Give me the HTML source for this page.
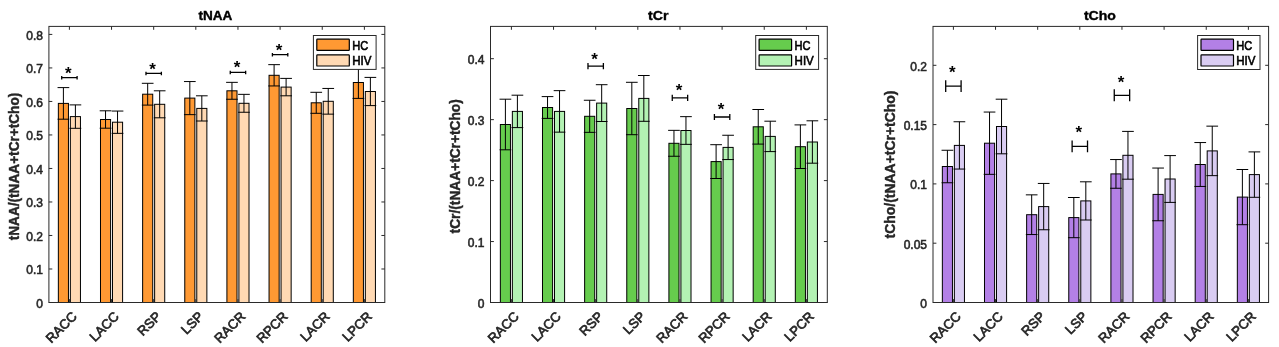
<!DOCTYPE html>
<html><head><meta charset="utf-8"><title>Metabolite ratios</title>
<style>html,body{margin:0;padding:0;background:#fff;}body{width:1279px;height:347px;overflow:hidden;font-family:"Liberation Sans",sans-serif;}svg{display:block;will-change:transform;}text{font-family:"Liberation Sans",sans-serif;font-weight:bold;}text.hv{stroke:#000;stroke-width:0.4px;}text.hv2{stroke:#262626;stroke-width:0.4px;}text.lg{font-weight:normal;stroke:#000;stroke-width:0.6px;}text.tk{font-weight:normal;stroke:#262626;stroke-width:0.55px;}</style>
</head><body>
<svg width="1279" height="347" viewBox="0 0 1279 347">
<rect x="0" y="0" width="1279" height="347" fill="#ffffff"/>
<g>
<rect x="58.35" y="103.40" width="10.10" height="199.10" fill="#FF9933" stroke="#000" stroke-width="1"/>
<rect x="70.35" y="116.60" width="10.10" height="185.90" fill="#FFD9B3" stroke="#000" stroke-width="1"/>
<rect x="100.49" y="119.50" width="10.10" height="183.00" fill="#FF9933" stroke="#000" stroke-width="1"/>
<rect x="112.49" y="122.20" width="10.10" height="180.30" fill="#FFD9B3" stroke="#000" stroke-width="1"/>
<rect x="142.63" y="94.20" width="10.10" height="208.30" fill="#FF9933" stroke="#000" stroke-width="1"/>
<rect x="154.63" y="104.30" width="10.10" height="198.20" fill="#FFD9B3" stroke="#000" stroke-width="1"/>
<rect x="184.77" y="98.10" width="10.10" height="204.40" fill="#FF9933" stroke="#000" stroke-width="1"/>
<rect x="196.77" y="108.40" width="10.10" height="194.10" fill="#FFD9B3" stroke="#000" stroke-width="1"/>
<rect x="226.91" y="90.80" width="10.10" height="211.70" fill="#FF9933" stroke="#000" stroke-width="1"/>
<rect x="238.91" y="103.30" width="10.10" height="199.20" fill="#FFD9B3" stroke="#000" stroke-width="1"/>
<rect x="269.05" y="75.30" width="10.10" height="227.20" fill="#FF9933" stroke="#000" stroke-width="1"/>
<rect x="281.05" y="87.10" width="10.10" height="215.40" fill="#FFD9B3" stroke="#000" stroke-width="1"/>
<rect x="311.19" y="102.80" width="10.10" height="199.70" fill="#FF9933" stroke="#000" stroke-width="1"/>
<rect x="323.19" y="101.30" width="10.10" height="201.20" fill="#FFD9B3" stroke="#000" stroke-width="1"/>
<rect x="353.33" y="82.50" width="10.10" height="220.00" fill="#FF9933" stroke="#000" stroke-width="1"/>
<rect x="365.33" y="91.50" width="10.10" height="211.00" fill="#FFD9B3" stroke="#000" stroke-width="1"/>
<path d="M63.40 87.60V119.20M57.55 87.60H69.25M57.55 119.20H69.25" stroke="#000" stroke-width="1" fill="none"/>
<path d="M75.40 104.90V128.30M69.55 104.90H81.25M69.55 128.30H81.25" stroke="#000" stroke-width="1" fill="none"/>
<path d="M105.54 110.80V128.20M99.69 110.80H111.39M99.69 128.20H111.39" stroke="#000" stroke-width="1" fill="none"/>
<path d="M117.54 111.05V133.35M111.69 111.05H123.39M111.69 133.35H123.39" stroke="#000" stroke-width="1" fill="none"/>
<path d="M147.68 83.30V105.10M141.83 83.30H153.53M141.83 105.10H153.53" stroke="#000" stroke-width="1" fill="none"/>
<path d="M159.68 90.80V117.80M153.83 90.80H165.53M153.83 117.80H165.53" stroke="#000" stroke-width="1" fill="none"/>
<path d="M189.82 81.55V114.65M183.97 81.55H195.67M183.97 114.65H195.67" stroke="#000" stroke-width="1" fill="none"/>
<path d="M201.82 95.80V121.00M195.97 95.80H207.67M195.97 121.00H207.67" stroke="#000" stroke-width="1" fill="none"/>
<path d="M231.96 82.35V99.25M226.11 82.35H237.81M226.11 99.25H237.81" stroke="#000" stroke-width="1" fill="none"/>
<path d="M243.96 94.35V112.25M238.11 94.35H249.81M238.11 112.25H249.81" stroke="#000" stroke-width="1" fill="none"/>
<path d="M274.10 64.65V85.95M268.25 64.65H279.95M268.25 85.95H279.95" stroke="#000" stroke-width="1" fill="none"/>
<path d="M286.10 78.40V95.80M280.25 78.40H291.95M280.25 95.80H291.95" stroke="#000" stroke-width="1" fill="none"/>
<path d="M316.24 92.30V113.30M310.39 92.30H322.09M310.39 113.30H322.09" stroke="#000" stroke-width="1" fill="none"/>
<path d="M328.24 88.45V114.15M322.39 88.45H334.09M322.39 114.15H334.09" stroke="#000" stroke-width="1" fill="none"/>
<path d="M358.38 66.60V98.40M352.53 66.60H364.23M352.53 98.40H364.23" stroke="#000" stroke-width="1" fill="none"/>
<path d="M370.38 77.40V105.60M364.53 77.40H376.23M364.53 105.60H376.23" stroke="#000" stroke-width="1" fill="none"/>
<rect x="48.90" y="26.40" width="335.90" height="276.10" fill="none" stroke="#2a2a2a" stroke-width="1"/>
<path d="M69.40 26.40v3.4M69.40 302.50v-3.4M111.54 26.40v3.4M111.54 302.50v-3.4M153.68 26.40v3.4M153.68 302.50v-3.4M195.82 26.40v3.4M195.82 302.50v-3.4M237.96 26.40v3.4M237.96 302.50v-3.4M280.10 26.40v3.4M280.10 302.50v-3.4M322.24 26.40v3.4M322.24 302.50v-3.4M364.38 26.40v3.4M364.38 302.50v-3.4M48.90 302.50h3.4M384.80 302.50h-3.4M48.90 268.99h3.4M384.80 268.99h-3.4M48.90 235.48h3.4M384.80 235.48h-3.4M48.90 201.97h3.4M384.80 201.97h-3.4M48.90 168.46h3.4M384.80 168.46h-3.4M48.90 134.95h3.4M384.80 134.95h-3.4M48.90 101.44h3.4M384.80 101.44h-3.4M48.90 67.93h3.4M384.80 67.93h-3.4M48.90 34.42h3.4M384.80 34.42h-3.4" stroke="#2a2a2a" stroke-width="1" fill="none"/>
<text class="tk" x="42.90" y="307.80" font-size="12" text-anchor="end" fill="#262626">0</text>
<text class="tk" x="42.90" y="274.29" font-size="12" text-anchor="end" fill="#262626">0.1</text>
<text class="tk" x="42.90" y="240.78" font-size="12" text-anchor="end" fill="#262626">0.2</text>
<text class="tk" x="42.90" y="207.27" font-size="12" text-anchor="end" fill="#262626">0.3</text>
<text class="tk" x="42.90" y="173.76" font-size="12" text-anchor="end" fill="#262626">0.4</text>
<text class="tk" x="42.90" y="140.25" font-size="12" text-anchor="end" fill="#262626">0.5</text>
<text class="tk" x="42.90" y="106.74" font-size="12" text-anchor="end" fill="#262626">0.6</text>
<text class="tk" x="42.90" y="73.23" font-size="12" text-anchor="end" fill="#262626">0.7</text>
<text class="tk" x="42.90" y="39.72" font-size="12" text-anchor="end" fill="#262626">0.8</text>
<text class="tk" transform="translate(77.70 317.30) rotate(-45)" font-size="13.2" text-anchor="end" fill="#262626" style="stroke-width:0.7px">RACC</text>
<text class="tk" transform="translate(119.84 317.30) rotate(-45)" font-size="13.2" text-anchor="end" fill="#262626" style="stroke-width:0.7px">LACC</text>
<text class="tk" transform="translate(161.98 317.30) rotate(-45)" font-size="13.2" text-anchor="end" fill="#262626" style="stroke-width:0.7px">RSP</text>
<text class="tk" transform="translate(204.12 317.30) rotate(-45)" font-size="13.2" text-anchor="end" fill="#262626" style="stroke-width:0.7px">LSP</text>
<text class="tk" transform="translate(246.26 317.30) rotate(-45)" font-size="13.2" text-anchor="end" fill="#262626" style="stroke-width:0.7px">RACR</text>
<text class="tk" transform="translate(288.40 317.30) rotate(-45)" font-size="13.2" text-anchor="end" fill="#262626" style="stroke-width:0.7px">RPCR</text>
<text class="tk" transform="translate(330.54 317.30) rotate(-45)" font-size="13.2" text-anchor="end" fill="#262626" style="stroke-width:0.7px">LACR</text>
<text class="tk" transform="translate(372.68 317.30) rotate(-45)" font-size="13.2" text-anchor="end" fill="#262626" style="stroke-width:0.7px">LPCR</text>
<text class="hv" x="215.40" y="19.65" font-size="13.5" text-anchor="middle" textLength="33.90" lengthAdjust="spacingAndGlyphs" fill="#000">tNAA</text>
<text transform="translate(18.70 240.30) rotate(-90)" class="hv2" font-size="14" textLength="147.60" lengthAdjust="spacingAndGlyphs" fill="#262626">tNAA/(tNAA+tCr+tCho)</text>
<path d="M61.70 77.70H77.10M61.70 75.95V79.45M77.10 75.95V79.45" stroke="#000" stroke-width="1.3" fill="none"/>
<text x="68.40" y="79.10" font-size="17" text-anchor="middle" fill="#000">*</text>
<path d="M145.98 73.40H161.38M145.98 71.65V75.15M161.38 71.65V75.15" stroke="#000" stroke-width="1.3" fill="none"/>
<text x="152.68" y="74.70" font-size="17" text-anchor="middle" fill="#000">*</text>
<path d="M230.26 72.40H245.66M230.26 70.65V74.15M245.66 70.65V74.15" stroke="#000" stroke-width="1.3" fill="none"/>
<text x="236.96" y="73.00" font-size="17" text-anchor="middle" fill="#000">*</text>
<path d="M272.40 54.70H287.80M272.40 52.95V56.45M287.80 52.95V56.45" stroke="#000" stroke-width="1.3" fill="none"/>
<text x="279.10" y="55.60" font-size="17" text-anchor="middle" fill="#000">*</text>
<rect x="313.40" y="35.50" width="62.70" height="33.90" fill="#fff" stroke="#2a2a2a" stroke-width="1"/>
<rect x="316.80" y="39.20" width="32.5" height="11.1" rx="0.6" fill="#FF9933" stroke="#000" stroke-width="1.2"/>
<rect x="316.80" y="54.80" width="32.5" height="11.2" rx="0.6" fill="#FFD9B3" stroke="#000" stroke-width="1.2"/>
<text class="lg" x="352.20" y="49.7" font-size="12.2" fill="#000" textLength="16.0" lengthAdjust="spacingAndGlyphs">HC</text>
<text class="lg" x="352.20" y="65.1" font-size="12.2" fill="#000" textLength="19.2" lengthAdjust="spacingAndGlyphs">HIV</text>
</g>
<g>
<rect x="500.35" y="124.50" width="10.10" height="178.00" fill="#66CC4D" stroke="#000" stroke-width="1"/>
<rect x="512.35" y="111.40" width="10.10" height="191.10" fill="#B3F2B3" stroke="#000" stroke-width="1"/>
<rect x="542.49" y="107.50" width="10.10" height="195.00" fill="#66CC4D" stroke="#000" stroke-width="1"/>
<rect x="554.49" y="111.40" width="10.10" height="191.10" fill="#B3F2B3" stroke="#000" stroke-width="1"/>
<rect x="584.63" y="116.30" width="10.10" height="186.20" fill="#66CC4D" stroke="#000" stroke-width="1"/>
<rect x="596.63" y="103.10" width="10.10" height="199.40" fill="#B3F2B3" stroke="#000" stroke-width="1"/>
<rect x="626.77" y="108.50" width="10.10" height="194.00" fill="#66CC4D" stroke="#000" stroke-width="1"/>
<rect x="638.77" y="98.40" width="10.10" height="204.10" fill="#B3F2B3" stroke="#000" stroke-width="1"/>
<rect x="668.91" y="143.30" width="10.10" height="159.20" fill="#66CC4D" stroke="#000" stroke-width="1"/>
<rect x="680.91" y="130.50" width="10.10" height="172.00" fill="#B3F2B3" stroke="#000" stroke-width="1"/>
<rect x="711.05" y="161.60" width="10.10" height="140.90" fill="#66CC4D" stroke="#000" stroke-width="1"/>
<rect x="723.05" y="147.40" width="10.10" height="155.10" fill="#B3F2B3" stroke="#000" stroke-width="1"/>
<rect x="753.19" y="126.80" width="10.10" height="175.70" fill="#66CC4D" stroke="#000" stroke-width="1"/>
<rect x="765.19" y="136.40" width="10.10" height="166.10" fill="#B3F2B3" stroke="#000" stroke-width="1"/>
<rect x="795.33" y="146.70" width="10.10" height="155.80" fill="#66CC4D" stroke="#000" stroke-width="1"/>
<rect x="807.33" y="142.00" width="10.10" height="160.50" fill="#B3F2B3" stroke="#000" stroke-width="1"/>
<path d="M505.40 99.20V149.80M499.55 99.20H511.25M499.55 149.80H511.25" stroke="#000" stroke-width="1" fill="none"/>
<path d="M517.40 95.20V127.60M511.55 95.20H523.25M511.55 127.60H523.25" stroke="#000" stroke-width="1" fill="none"/>
<path d="M547.54 96.60V118.40M541.69 96.60H553.39M541.69 118.40H553.39" stroke="#000" stroke-width="1" fill="none"/>
<path d="M559.54 90.65V132.15M553.69 90.65H565.39M553.69 132.15H565.39" stroke="#000" stroke-width="1" fill="none"/>
<path d="M589.68 100.25V132.35M583.83 100.25H595.53M583.83 132.35H595.53" stroke="#000" stroke-width="1" fill="none"/>
<path d="M601.68 84.70V121.50M595.83 84.70H607.53M595.83 121.50H607.53" stroke="#000" stroke-width="1" fill="none"/>
<path d="M631.82 82.30V134.70M625.97 82.30H637.67M625.97 134.70H637.67" stroke="#000" stroke-width="1" fill="none"/>
<path d="M643.82 75.50V121.30M637.97 75.50H649.67M637.97 121.30H649.67" stroke="#000" stroke-width="1" fill="none"/>
<path d="M673.96 130.35V156.25M668.11 130.35H679.81M668.11 156.25H679.81" stroke="#000" stroke-width="1" fill="none"/>
<path d="M685.96 116.65V144.35M680.11 116.65H691.81M680.11 144.35H691.81" stroke="#000" stroke-width="1" fill="none"/>
<path d="M716.10 144.70V178.50M710.25 144.70H721.95M710.25 178.50H721.95" stroke="#000" stroke-width="1" fill="none"/>
<path d="M728.10 135.25V159.55M722.25 135.25H733.95M722.25 159.55H733.95" stroke="#000" stroke-width="1" fill="none"/>
<path d="M758.24 109.50V144.10M752.39 109.50H764.09M752.39 144.10H764.09" stroke="#000" stroke-width="1" fill="none"/>
<path d="M770.24 121.20V151.60M764.39 121.20H776.09M764.39 151.60H776.09" stroke="#000" stroke-width="1" fill="none"/>
<path d="M800.38 124.90V168.50M794.53 124.90H806.23M794.53 168.50H806.23" stroke="#000" stroke-width="1" fill="none"/>
<path d="M812.38 120.80V163.20M806.53 120.80H818.23M806.53 163.20H818.23" stroke="#000" stroke-width="1" fill="none"/>
<rect x="490.50" y="26.40" width="336.80" height="276.10" fill="none" stroke="#2a2a2a" stroke-width="1"/>
<path d="M511.40 26.40v3.4M511.40 302.50v-3.4M553.54 26.40v3.4M553.54 302.50v-3.4M595.68 26.40v3.4M595.68 302.50v-3.4M637.82 26.40v3.4M637.82 302.50v-3.4M679.96 26.40v3.4M679.96 302.50v-3.4M722.10 26.40v3.4M722.10 302.50v-3.4M764.24 26.40v3.4M764.24 302.50v-3.4M806.38 26.40v3.4M806.38 302.50v-3.4M490.50 302.50h3.4M827.30 302.50h-3.4M490.50 241.55h3.4M827.30 241.55h-3.4M490.50 180.60h3.4M827.30 180.60h-3.4M490.50 119.65h3.4M827.30 119.65h-3.4M490.50 58.70h3.4M827.30 58.70h-3.4" stroke="#2a2a2a" stroke-width="1" fill="none"/>
<text class="tk" x="484.50" y="307.80" font-size="12" text-anchor="end" fill="#262626">0</text>
<text class="tk" x="484.50" y="246.85" font-size="12" text-anchor="end" fill="#262626">0.1</text>
<text class="tk" x="484.50" y="185.90" font-size="12" text-anchor="end" fill="#262626">0.2</text>
<text class="tk" x="484.50" y="124.95" font-size="12" text-anchor="end" fill="#262626">0.3</text>
<text class="tk" x="484.50" y="64.00" font-size="12" text-anchor="end" fill="#262626">0.4</text>
<text class="tk" transform="translate(519.70 317.30) rotate(-45)" font-size="13.2" text-anchor="end" fill="#262626" style="stroke-width:0.7px">RACC</text>
<text class="tk" transform="translate(561.84 317.30) rotate(-45)" font-size="13.2" text-anchor="end" fill="#262626" style="stroke-width:0.7px">LACC</text>
<text class="tk" transform="translate(603.98 317.30) rotate(-45)" font-size="13.2" text-anchor="end" fill="#262626" style="stroke-width:0.7px">RSP</text>
<text class="tk" transform="translate(646.12 317.30) rotate(-45)" font-size="13.2" text-anchor="end" fill="#262626" style="stroke-width:0.7px">LSP</text>
<text class="tk" transform="translate(688.26 317.30) rotate(-45)" font-size="13.2" text-anchor="end" fill="#262626" style="stroke-width:0.7px">RACR</text>
<text class="tk" transform="translate(730.40 317.30) rotate(-45)" font-size="13.2" text-anchor="end" fill="#262626" style="stroke-width:0.7px">RPCR</text>
<text class="tk" transform="translate(772.54 317.30) rotate(-45)" font-size="13.2" text-anchor="end" fill="#262626" style="stroke-width:0.7px">LACR</text>
<text class="tk" transform="translate(814.68 317.30) rotate(-45)" font-size="13.2" text-anchor="end" fill="#262626" style="stroke-width:0.7px">LPCR</text>
<text class="hv" x="658.20" y="19.65" font-size="13.5" text-anchor="middle" textLength="20.40" lengthAdjust="spacingAndGlyphs" fill="#000">tCr</text>
<text transform="translate(459.80 233.40) rotate(-90)" class="hv2" font-size="14" textLength="134.20" lengthAdjust="spacingAndGlyphs" fill="#262626">tCr/(tNAA+tCr+tCho)</text>
<path d="M587.98 66.10H603.38M587.98 63.00V69.20M603.38 63.00V69.20" stroke="#000" stroke-width="1.3" fill="none"/>
<text x="594.68" y="65.00" font-size="17" text-anchor="middle" fill="#000">*</text>
<path d="M672.26 97.90H687.66M672.26 94.80V101.00M687.66 94.80V101.00" stroke="#000" stroke-width="1.3" fill="none"/>
<text x="678.96" y="96.30" font-size="17" text-anchor="middle" fill="#000">*</text>
<path d="M714.40 117.00H729.80M714.40 113.90V120.10M729.80 113.90V120.10" stroke="#000" stroke-width="1.3" fill="none"/>
<text x="721.10" y="114.70" font-size="17" text-anchor="middle" fill="#000">*</text>
<rect x="755.70" y="35.50" width="62.90" height="33.90" fill="#fff" stroke="#2a2a2a" stroke-width="1"/>
<rect x="759.10" y="39.20" width="32.5" height="11.1" rx="0.6" fill="#66CC4D" stroke="#000" stroke-width="1.2"/>
<rect x="759.10" y="54.80" width="32.5" height="11.2" rx="0.6" fill="#B3F2B3" stroke="#000" stroke-width="1.2"/>
<text class="lg" x="794.60" y="49.7" font-size="12.2" fill="#000" textLength="16.0" lengthAdjust="spacingAndGlyphs">HC</text>
<text class="lg" x="794.60" y="65.1" font-size="12.2" fill="#000" textLength="19.2" lengthAdjust="spacingAndGlyphs">HIV</text>
</g>
<g>
<rect x="942.35" y="166.50" width="10.10" height="136.00" fill="#B380E6" stroke="#000" stroke-width="1"/>
<rect x="954.35" y="145.40" width="10.10" height="157.10" fill="#D9CCF2" stroke="#000" stroke-width="1"/>
<rect x="984.49" y="143.20" width="10.10" height="159.30" fill="#B380E6" stroke="#000" stroke-width="1"/>
<rect x="996.49" y="126.50" width="10.10" height="176.00" fill="#D9CCF2" stroke="#000" stroke-width="1"/>
<rect x="1026.63" y="214.70" width="10.10" height="87.80" fill="#B380E6" stroke="#000" stroke-width="1"/>
<rect x="1038.63" y="206.60" width="10.10" height="95.90" fill="#D9CCF2" stroke="#000" stroke-width="1"/>
<rect x="1068.77" y="217.60" width="10.10" height="84.90" fill="#B380E6" stroke="#000" stroke-width="1"/>
<rect x="1080.77" y="200.90" width="10.10" height="101.60" fill="#D9CCF2" stroke="#000" stroke-width="1"/>
<rect x="1110.91" y="173.90" width="10.10" height="128.60" fill="#B380E6" stroke="#000" stroke-width="1"/>
<rect x="1122.91" y="155.30" width="10.10" height="147.20" fill="#D9CCF2" stroke="#000" stroke-width="1"/>
<rect x="1153.05" y="194.40" width="10.10" height="108.10" fill="#B380E6" stroke="#000" stroke-width="1"/>
<rect x="1165.05" y="179.00" width="10.10" height="123.50" fill="#D9CCF2" stroke="#000" stroke-width="1"/>
<rect x="1195.19" y="164.50" width="10.10" height="138.00" fill="#B380E6" stroke="#000" stroke-width="1"/>
<rect x="1207.19" y="150.90" width="10.10" height="151.60" fill="#D9CCF2" stroke="#000" stroke-width="1"/>
<rect x="1237.33" y="197.10" width="10.10" height="105.40" fill="#B380E6" stroke="#000" stroke-width="1"/>
<rect x="1249.33" y="174.60" width="10.10" height="127.90" fill="#D9CCF2" stroke="#000" stroke-width="1"/>
<path d="M947.40 150.25V182.75M941.55 150.25H953.25M941.55 182.75H953.25" stroke="#000" stroke-width="1" fill="none"/>
<path d="M959.40 121.75V169.05M953.55 121.75H965.25M953.55 169.05H965.25" stroke="#000" stroke-width="1" fill="none"/>
<path d="M989.54 112.05V174.35M983.69 112.05H995.39M983.69 174.35H995.39" stroke="#000" stroke-width="1" fill="none"/>
<path d="M1001.54 99.20V153.80M995.69 99.20H1007.39M995.69 153.80H1007.39" stroke="#000" stroke-width="1" fill="none"/>
<path d="M1031.68 194.85V234.55M1025.83 194.85H1037.53M1025.83 234.55H1037.53" stroke="#000" stroke-width="1" fill="none"/>
<path d="M1043.68 183.45V229.75M1037.83 183.45H1049.53M1037.83 229.75H1049.53" stroke="#000" stroke-width="1" fill="none"/>
<path d="M1073.82 197.50V237.70M1067.97 197.50H1079.67M1067.97 237.70H1079.67" stroke="#000" stroke-width="1" fill="none"/>
<path d="M1085.82 181.80V220.00M1079.97 181.80H1091.67M1079.97 220.00H1091.67" stroke="#000" stroke-width="1" fill="none"/>
<path d="M1115.96 159.55V188.25M1110.11 159.55H1121.81M1110.11 188.25H1121.81" stroke="#000" stroke-width="1" fill="none"/>
<path d="M1127.96 131.40V179.20M1122.11 131.40H1133.81M1122.11 179.20H1133.81" stroke="#000" stroke-width="1" fill="none"/>
<path d="M1158.10 168.05V220.75M1152.25 168.05H1163.95M1152.25 220.75H1163.95" stroke="#000" stroke-width="1" fill="none"/>
<path d="M1170.10 155.60V202.40M1164.25 155.60H1175.95M1164.25 202.40H1175.95" stroke="#000" stroke-width="1" fill="none"/>
<path d="M1200.24 142.55V186.45M1194.39 142.55H1206.09M1194.39 186.45H1206.09" stroke="#000" stroke-width="1" fill="none"/>
<path d="M1212.24 126.15V175.65M1206.39 126.15H1218.09M1206.39 175.65H1218.09" stroke="#000" stroke-width="1" fill="none"/>
<path d="M1242.38 169.50V224.70M1236.53 169.50H1248.23M1236.53 224.70H1248.23" stroke="#000" stroke-width="1" fill="none"/>
<path d="M1254.38 151.90V197.30M1248.53 151.90H1260.23M1248.53 197.30H1260.23" stroke="#000" stroke-width="1" fill="none"/>
<rect x="933.00" y="26.40" width="335.60" height="276.10" fill="none" stroke="#2a2a2a" stroke-width="1"/>
<path d="M953.40 26.40v3.4M953.40 302.50v-3.4M995.54 26.40v3.4M995.54 302.50v-3.4M1037.68 26.40v3.4M1037.68 302.50v-3.4M1079.82 26.40v3.4M1079.82 302.50v-3.4M1121.96 26.40v3.4M1121.96 302.50v-3.4M1164.10 26.40v3.4M1164.10 302.50v-3.4M1206.24 26.40v3.4M1206.24 302.50v-3.4M1248.38 26.40v3.4M1248.38 302.50v-3.4M933.00 302.50h3.4M1268.60 302.50h-3.4M933.00 243.20h3.4M1268.60 243.20h-3.4M933.00 183.90h3.4M1268.60 183.90h-3.4M933.00 124.60h3.4M1268.60 124.60h-3.4M933.00 65.30h3.4M1268.60 65.30h-3.4" stroke="#2a2a2a" stroke-width="1" fill="none"/>
<text class="tk" x="927.00" y="307.80" font-size="12" text-anchor="end" fill="#262626">0</text>
<text class="tk" x="927.00" y="248.50" font-size="12" text-anchor="end" fill="#262626">0.05</text>
<text class="tk" x="927.00" y="189.20" font-size="12" text-anchor="end" fill="#262626">0.1</text>
<text class="tk" x="927.00" y="129.90" font-size="12" text-anchor="end" fill="#262626">0.15</text>
<text class="tk" x="927.00" y="70.60" font-size="12" text-anchor="end" fill="#262626">0.2</text>
<text class="tk" transform="translate(961.70 317.30) rotate(-45)" font-size="13.2" text-anchor="end" fill="#262626" style="stroke-width:0.7px">RACC</text>
<text class="tk" transform="translate(1003.84 317.30) rotate(-45)" font-size="13.2" text-anchor="end" fill="#262626" style="stroke-width:0.7px">LACC</text>
<text class="tk" transform="translate(1045.98 317.30) rotate(-45)" font-size="13.2" text-anchor="end" fill="#262626" style="stroke-width:0.7px">RSP</text>
<text class="tk" transform="translate(1088.12 317.30) rotate(-45)" font-size="13.2" text-anchor="end" fill="#262626" style="stroke-width:0.7px">LSP</text>
<text class="tk" transform="translate(1130.26 317.30) rotate(-45)" font-size="13.2" text-anchor="end" fill="#262626" style="stroke-width:0.7px">RACR</text>
<text class="tk" transform="translate(1172.40 317.30) rotate(-45)" font-size="13.2" text-anchor="end" fill="#262626" style="stroke-width:0.7px">RPCR</text>
<text class="tk" transform="translate(1214.54 317.30) rotate(-45)" font-size="13.2" text-anchor="end" fill="#262626" style="stroke-width:0.7px">LACR</text>
<text class="tk" transform="translate(1256.68 317.30) rotate(-45)" font-size="13.2" text-anchor="end" fill="#262626" style="stroke-width:0.7px">LPCR</text>
<text class="hv" x="1099.90" y="19.65" font-size="13.5" text-anchor="middle" textLength="32.05" lengthAdjust="spacingAndGlyphs" fill="#000">tCho</text>
<text transform="translate(895.20 238.40) rotate(-90)" class="hv2" font-size="14" textLength="147.80" lengthAdjust="spacingAndGlyphs" fill="#262626">tCho/(tNAA+tCr+tCho)</text>
<path d="M945.70 86.10H961.10M945.70 80.15V92.05M961.10 80.15V92.05" stroke="#000" stroke-width="1.3" fill="none"/>
<text x="952.40" y="78.10" font-size="17" text-anchor="middle" fill="#000">*</text>
<path d="M1072.12 146.40H1087.52M1072.12 140.45V152.35M1087.52 140.45V152.35" stroke="#000" stroke-width="1.3" fill="none"/>
<text x="1078.82" y="137.90" font-size="17" text-anchor="middle" fill="#000">*</text>
<path d="M1114.26 95.30H1129.66M1114.26 89.35V101.25M1129.66 89.35V101.25" stroke="#000" stroke-width="1.3" fill="none"/>
<text x="1120.96" y="88.10" font-size="17" text-anchor="middle" fill="#000">*</text>
<rect x="1197.60" y="35.50" width="62.40" height="34.00" fill="#fff" stroke="#2a2a2a" stroke-width="1"/>
<rect x="1201.00" y="39.20" width="32.5" height="11.1" rx="0.6" fill="#B380E6" stroke="#000" stroke-width="1.2"/>
<rect x="1201.00" y="54.80" width="32.5" height="11.2" rx="0.6" fill="#D9CCF2" stroke="#000" stroke-width="1.2"/>
<text class="lg" x="1236.20" y="49.7" font-size="12.2" fill="#000" textLength="16.0" lengthAdjust="spacingAndGlyphs">HC</text>
<text class="lg" x="1236.20" y="65.1" font-size="12.2" fill="#000" textLength="19.2" lengthAdjust="spacingAndGlyphs">HIV</text>
</g>
</svg></body></html>
